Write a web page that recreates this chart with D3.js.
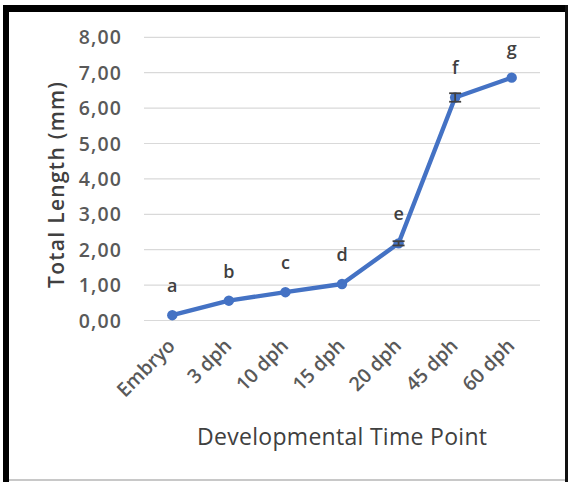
<!DOCTYPE html>
<html><head><meta charset="utf-8">
<script src="https://cdn.jsdelivr.net/npm/d3@7"></script>
<style>
html,body{margin:0;padding:0;background:#fff;}
svg{display:block;}
</style></head>
<body>
<svg id="c" width="568" height="482"></svg>
<script>
const categories = ["Embryo","3 dph","10 dph","15 dph","20 dph","45 dph","60 dph"];
const values = [0.15, 0.56, 0.80, 1.03, 2.18, 6.30, 6.86];
const errors = [0, 0, 0, 0, 0.06, 0.12, 0];
const letters = ["a","b","c","d","e","f","g"];
const yTicks = [0,1,2,3,4,5,6,7,8];

(function(){
const svg = d3.select("#c");
const W = 568, H = 482;
const mLeft = 144, mRight = 540, mTop = 37.3, mBottom = 320.5;
const FONT = "'Open Sans', sans-serif";

svg.append("rect").attr("width",W).attr("height",H).attr("fill","#fff");

const x = d3.scaleBand().domain(categories).range([mLeft,mRight]);
const y = d3.scaleLinear().domain([0,8]).range([mBottom,mTop]);
const cx = d => x(d)+x.bandwidth()/2;

// gridlines
svg.append("g").selectAll("line").data(yTicks).join("line")
  .attr("x1",mLeft).attr("x2",mRight)
  .attr("y1",d=>y(d)).attr("y2",d=>y(d))
  .attr("stroke","#d9d9d9").attr("stroke-width",1.2);

// y tick labels
const fmt = d => d3.format(".2f")(d).replace(".",",");
svg.append("g").selectAll("text").data(yTicks).join("text")
  .attr("x",122).attr("y",d=>y(d)).attr("dy","0.36em")
  .attr("text-anchor","end")
  .attr("font-family",FONT).attr("font-weight",600)
  .attr("font-size",19.5).attr("letter-spacing",1.1).attr("fill","#595959")
  .text(fmt);

// x tick labels
svg.append("g").selectAll("text").data(categories).join("text")
  .attr("transform",d=>`translate(${cx(d)+4},${347}) rotate(-45)`)
  .attr("text-anchor","end")
  .attr("font-family",FONT).attr("font-weight",600)
  .attr("font-size",19.5).attr("fill","#595959")
  .text(d=>d);

// line
const pts = categories.map((c,i)=>[cx(c), y(values[i])]);
svg.append("path").datum(pts)
  .attr("d", d3.line())
  .attr("fill","none").attr("stroke","#4472c4").attr("stroke-width",4.4)
  .attr("stroke-linejoin","round");

// markers
svg.append("g").selectAll("circle").data(pts).join("circle")
  .attr("cx",d=>d[0]).attr("cy",d=>d[1]).attr("r",5.2)
  .attr("fill","#4472c4");

// error bars
const eb = svg.append("g").attr("stroke","#404040").attr("stroke-width",1.8);
categories.forEach((c,i)=>{
  if (!(errors[i] > 0)) return;
  const xc = cx(c), y1 = y(values[i]+errors[i]), y2 = y(values[i]-errors[i]);
  eb.append("line").attr("x1",xc).attr("x2",xc).attr("y1",y1).attr("y2",y2);
  eb.append("line").attr("x1",xc-6).attr("x2",xc+6).attr("y1",y1).attr("y2",y1);
  eb.append("line").attr("x1",xc-6).attr("x2",xc+6).attr("y1",y2).attr("y2",y2);
});

// significance letters
svg.append("g").selectAll("text").data(letters).join("text")
  .attr("x",(d,i)=>cx(categories[i])).attr("y",(d,i)=>y(values[i])-23)
  .attr("text-anchor","middle")
  .attr("font-family",FONT).attr("font-weight",600)
  .attr("font-size",18).attr("fill","#404040")
  .text(d=>d);

// axis titles
svg.append("text")
  .attr("transform","translate(57,185) rotate(-90)")
  .attr("dy","0.35em").attr("text-anchor","middle")
  .attr("font-family",FONT).attr("font-weight",600)
  .attr("font-size",21).attr("fill","#404040")
  .attr("textLength",206).attr("lengthAdjust","spacing")
  .text("Total Length (mm)");
svg.append("text")
  .attr("x",342).attr("y",437).attr("dy","0.35em").attr("text-anchor","middle")
  .attr("font-family",FONT).attr("font-weight",400)
  .attr("font-size",23).attr("fill","#404040")
  .attr("textLength",290).attr("lengthAdjust","spacing")
  .text("Developmental Time Point");

// frame
svg.append("rect").attr("x",3).attr("y",5).attr("width",6).attr("height",H-5).attr("fill","#000");
svg.append("rect").attr("x",3).attr("y",5).attr("width",W-3).attr("height",7).attr("fill","#000");
svg.append("rect").attr("x",565).attr("y",5).attr("width",3).attr("height",H-5).attr("fill","#111");
svg.append("rect").attr("x",9).attr("y",479).attr("width",556).attr("height",2).attr("fill","#c8c8c8");
})();
</script>
</body></html>
